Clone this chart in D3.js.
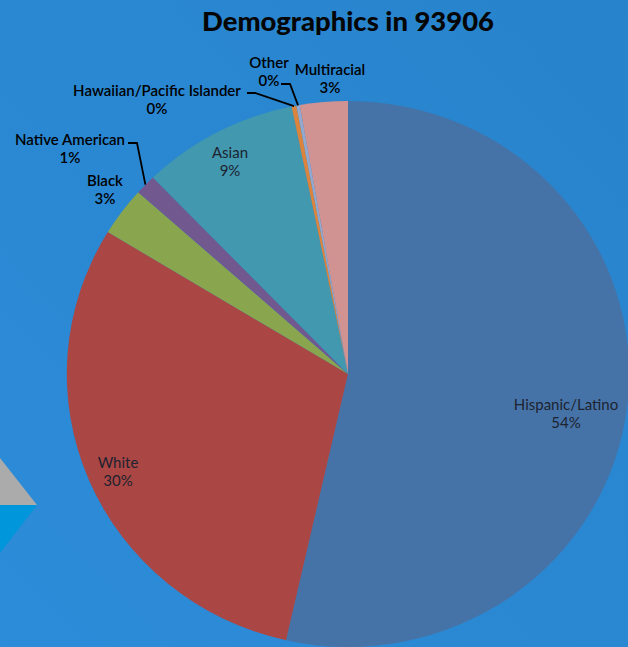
<!DOCTYPE html>
<html><head><meta charset="utf-8">
<script src="https://cdn.jsdelivr.net/npm/d3@7"></script>
<style>html,body{margin:0;padding:0;overflow:hidden;background:#2887CD}</style>
</head><body>
<script>
// ---- data ----
const categories = ["Hispanic/Latino","White","Black","Native American","Asian","Hawaiian/Pacific Islander","Other","Multiracial"];
const values = [53.6, 30.2, 2.9, 1.2, 9.0, 0.28, 0.19, 2.75];
const colors = ["#4673A7","#AA4644","#89A54E","#71588F","#4198AF","#DB843D","#93A9CF","#D19392"];
const title = "Demographics in 93906";

// ---- layout ----
const W = 628, H = 647;
const cx = 348, cy = 374, R = 273, sx = 1.03;
// label anchor (centre x, first baseline y), outside flag, leader start/elbow
const labelLayout = [
  {x:566, y:410, out:false},
  {x:118, y:468, out:false},
  {x:105, y:186, out:true},
  {x:70,  y:145, out:true, lead:[[128,143],[137,143]]},
  {x:230, y:158, out:false},
  {x:157, y:96,  out:true, lead:[[247,93],[255,93]]},
  {x:269, y:68,  out:true, lead:[[281,84],[290,84]]},
  {x:330, y:75,  out:true}
];

const svg = d3.select("body").append("svg").attr("width",W).attr("height",H);
const defs = svg.append("defs");
const g = defs.append("linearGradient").attr("id","bg").attr("x1","0").attr("y1","1").attr("x2","1").attr("y2","0");
g.append("stop").attr("offset","0").attr("stop-color","#2D8CD9");
g.append("stop").attr("offset","1").attr("stop-color","#2783CB");
svg.append("rect").attr("width",W).attr("height",H).attr("fill","url(#bg)");

// decorative triangles
svg.append("path").attr("d","M0,458 L37,505 L0,505 Z").attr("fill","#ABABAB");
svg.append("path").attr("d","M0,505 L37,505 L0,553 Z").attr("fill","#0096DB");

const total = d3.sum(values);
const pie = d3.pie().sort(null).value(d=>d);
const arcs = pie(values);
const arc = d3.arc().innerRadius(0).outerRadius(R);

const pg = svg.append("g").attr("transform",`translate(${cx},${cy}) scale(${sx},1)`);
pg.selectAll("path").data(arcs).join("path")
  .attr("d",arc).attr("fill",(d,i)=>colors[i]);

svg.append("text").attr("x",cx).attr("y",31).attr("text-anchor","middle")
  .attr("font-family","Lato, 'Open Sans', sans-serif").attr("font-weight","900")
  .attr("font-size",26).attr("fill","#050505")
  .attr("textLength",292).attr("lengthAdjust","spacingAndGlyphs").text(title);

const fmt = d3.format(".0%");
const lg = svg.append("g");
arcs.forEach((a,i)=>{
  const L = labelLayout[i];
  if (L.lead) {
    const mid = (a.startAngle+a.endAngle)/2;
    const end = [cx + Math.sin(mid)*R*sx, cy - Math.cos(mid)*R];
    const pts = L.lead.concat([end]);
    lg.append("path").attr("d",d3.line()(pts)).attr("fill","none")
      .attr("stroke","#000").attr("stroke-width",1.8);
  }
  const t = lg.append("text").attr("text-anchor","middle")
    .attr("font-family","Lato, 'Open Sans', sans-serif").attr("font-size",15)
    .attr("fill", L.out ? "#000" : "#1d2330")
    .attr("font-weight", L.out ? "600" : "normal");
  t.append("tspan").attr("x",L.x).attr("y",L.y).text(categories[i]);
  t.append("tspan").attr("x",L.x).attr("y",L.y+18).text(fmt(a.data/total));
});
</script>
</body></html>
